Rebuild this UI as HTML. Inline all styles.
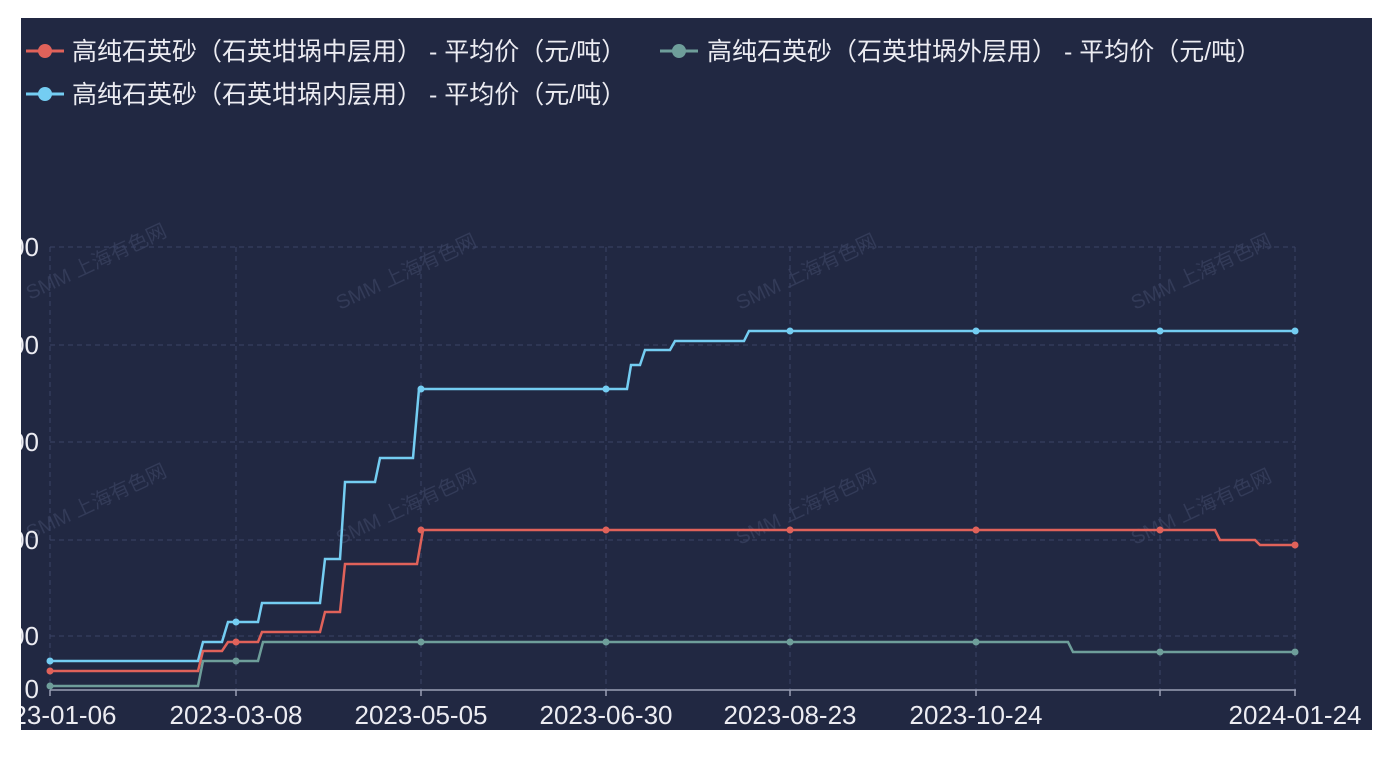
<!DOCTYPE html>
<html><head><meta charset="utf-8"><style>
html,body{margin:0;padding:0;background:#fff;width:1394px;height:766px;overflow:hidden}
svg{display:block}
text{font-family:"Liberation Sans","Noto Sans CJK SC",sans-serif}
</style></head><body>
<svg width="1394" height="766" xmlns="http://www.w3.org/2000/svg">
<defs><clipPath id="c"><rect x="21" y="18" width="1351" height="712"/></clipPath></defs>
<rect x="21" y="18" width="1351" height="712" fill="#212842"/>
<g clip-path="url(#c)">
<g fill="#333b58" font-size="20">
<text transform="translate(30,300) rotate(-25)">SMM 上海有色网</text>
<text transform="translate(340,310) rotate(-25)">SMM 上海有色网</text>
<text transform="translate(740,310) rotate(-25)">SMM 上海有色网</text>
<text transform="translate(1135,310) rotate(-25)">SMM 上海有色网</text>
<text transform="translate(30,540) rotate(-25)">SMM 上海有色网</text>
<text transform="translate(340,545) rotate(-25)">SMM 上海有色网</text>
<text transform="translate(740,545) rotate(-25)">SMM 上海有色网</text>
<text transform="translate(1135,545) rotate(-25)">SMM 上海有色网</text>
</g>
<g stroke="#3a4366" stroke-width="1" stroke-dasharray="5,4">
<line x1="50" y1="247" x2="1295" y2="247"/><line x1="50" y1="345" x2="1295" y2="345"/>
<line x1="50" y1="442" x2="1295" y2="442"/><line x1="50" y1="540" x2="1295" y2="540"/>
<line x1="50" y1="636" x2="1295" y2="636"/>
<line x1="50" y1="247" x2="50" y2="690"/><line x1="236" y1="247" x2="236" y2="690"/>
<line x1="421" y1="247" x2="421" y2="690"/><line x1="606" y1="247" x2="606" y2="690"/>
<line x1="790" y1="247" x2="790" y2="690"/><line x1="976" y1="247" x2="976" y2="690"/>
<line x1="1160" y1="247" x2="1160" y2="690"/><line x1="1295" y1="247" x2="1295" y2="690"/>
</g>
<g stroke="#9a9fb5" stroke-width="1.5">
<line x1="50" y1="690" x2="1296" y2="690"/>
<line x1="50" y1="690" x2="50" y2="696"/><line x1="236" y1="690" x2="236" y2="696"/>
<line x1="421" y1="690" x2="421" y2="696"/><line x1="606" y1="690" x2="606" y2="696"/>
<line x1="790" y1="690" x2="790" y2="696"/><line x1="976" y1="690" x2="976" y2="696"/>
<line x1="1160" y1="690" x2="1160" y2="696"/><line x1="1295" y1="690" x2="1295" y2="696"/>
</g>
<g fill="#ececf2" font-size="26" text-anchor="end">
<text x="39" y="256">00</text><text x="39" y="354">00</text><text x="39" y="451">00</text>
<text x="39" y="549">00</text><text x="39" y="645">00</text><text x="39" y="698">0</text>
</g>
<g fill="#ececf2" font-size="26" text-anchor="middle">
<text x="50" y="724">2023-01-06</text><text x="236" y="724">2023-03-08</text>
<text x="421" y="724">2023-05-05</text><text x="606" y="724">2023-06-30</text>
<text x="790" y="724">2023-08-23</text><text x="976" y="724">2023-10-24</text>
<text x="1295" y="724">2024-01-24</text>
</g>
<g fill="none" stroke-width="2.5">
<polyline stroke="#74cdf2" points="50,661 198,661 203,642 222,642 228,622 258,622 262,603 320,603 325,559 340,559 345,482 375,482 380,458 413,458 419,389 627,389 631,365 640,365 645,350 670,350 675,341 744,341 749,331 1295,331"/>
<polyline stroke="#e0625a" points="50,671 198,671 203,651 222,651 228,642 258,642 262,632 320,632 325,612 340,612 345,564 417,564 423,530 1215,530 1220,540 1255,540 1260,545 1295,545"/>
<polyline stroke="#6e9e9a" points="50,686 198,686 203,661 258,661 263,642 1068,642 1073,652 1295,652"/>
</g>
<g fill="#74cdf2"><circle cx="50" cy="661" r="3.5"/><circle cx="236" cy="622" r="3.5"/><circle cx="421" cy="389" r="3.5"/><circle cx="606" cy="389" r="3.5"/><circle cx="790" cy="331" r="3.5"/><circle cx="976" cy="331" r="3.5"/><circle cx="1160" cy="331" r="3.5"/><circle cx="1295" cy="331" r="3.5"/></g>
<g fill="#e0625a"><circle cx="50" cy="671" r="3.5"/><circle cx="236" cy="642" r="3.5"/><circle cx="421" cy="530" r="3.5"/><circle cx="606" cy="530" r="3.5"/><circle cx="790" cy="530" r="3.5"/><circle cx="976" cy="530" r="3.5"/><circle cx="1160" cy="530" r="3.5"/><circle cx="1295" cy="545" r="3.5"/></g>
<g fill="#6e9e9a"><circle cx="50" cy="686" r="3.5"/><circle cx="236" cy="661" r="3.5"/><circle cx="421" cy="642" r="3.5"/><circle cx="606" cy="642" r="3.5"/><circle cx="790" cy="642" r="3.5"/><circle cx="976" cy="642" r="3.5"/><circle cx="1160" cy="652" r="3.5"/><circle cx="1295" cy="652" r="3.5"/></g>
<g stroke-width="3">
<line x1="26" y1="51" x2="64" y2="51" stroke="#e0625a"/><circle cx="45" cy="51" r="7" fill="#e0625a"/>
<line x1="660" y1="51" x2="698" y2="51" stroke="#6e9e9a"/><circle cx="679" cy="51" r="7" fill="#6e9e9a"/>
<line x1="26" y1="94" x2="64" y2="94" stroke="#74cdf2"/><circle cx="45" cy="94" r="7" fill="#74cdf2"/>
</g>
<g fill="#ececf2" font-size="25">
<text x="72" y="60">高纯石英砂（石英坩埚中层用） - 平均价（元/吨）</text>
<text x="707" y="60">高纯石英砂（石英坩埚外层用） - 平均价（元/吨）</text>
<text x="72" y="103">高纯石英砂（石英坩埚内层用） - 平均价（元/吨）</text>
</g>
</g>
</svg>
</body></html>
